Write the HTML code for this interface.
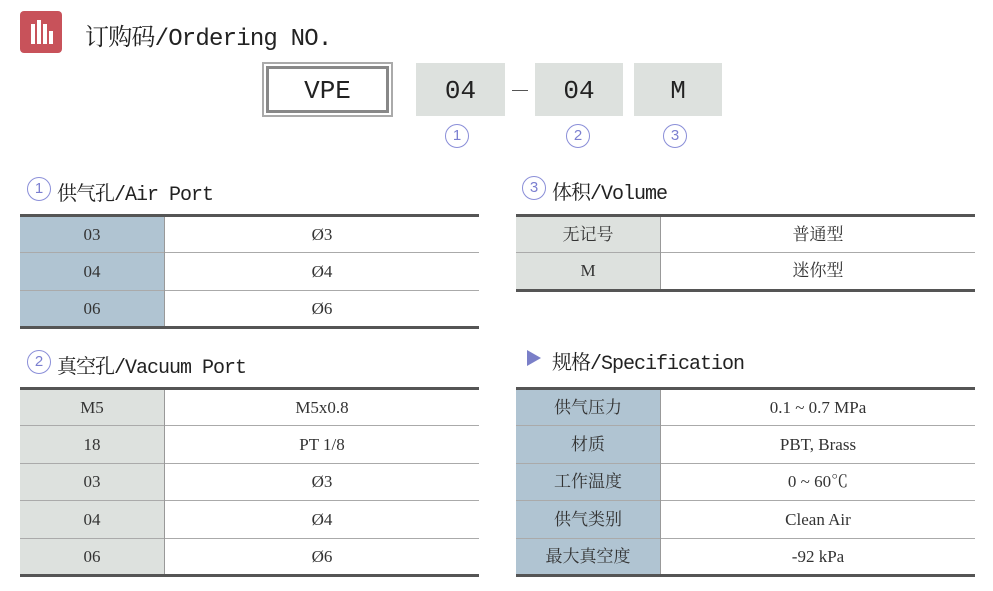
<!DOCTYPE html>
<html><head><meta charset="utf-8"><style>
body{margin:0;width:993px;height:591px;background:#fff;position:relative;overflow:hidden;font-family:"Liberation Serif","Noto Serif CJK SC",serif;color:#333}
.a{position:absolute}
.icon{left:20px;top:11px;width:42px;height:42px;background:#c8525a;border-radius:4px}
.icon i{position:absolute;bottom:9px;width:4px;background:#fff}
.title{left:85px;top:17px;font-size:24px;color:#222;white-space:nowrap;font-family:"Liberation Mono","Noto Serif CJK SC",monospace;letter-spacing:-0.8px}
.box{background:#dde1de;font-size:26px;text-align:center;line-height:57px;height:53px;color:#222;font-family:"Liberation Mono",monospace}
.num{font-size:15px;color:#7b7fd0;width:22px;height:22px;border:1px solid #8a8ed8;border-radius:50%;text-align:center;line-height:22px;font-family:"Liberation Sans",sans-serif}
.h{font-size:20px;color:#222;white-space:nowrap;font-family:"Liberation Mono","Noto Serif CJK SC",monospace;letter-spacing:-1px}
table{position:absolute;border-collapse:collapse;border-top:3px solid #555;border-bottom:3px solid #555;font-size:17px}
td{border-top:1px solid #aaa;text-align:center;padding:0;color:#333;line-height:20px}
td.l{border-right:1px solid #999}
.blue td.l{background:#b0c4d2}
.gray td.l{background:#dde1de}
</style></head><body>
<div class="a icon"><i style="left:11px;height:20px"></i><i style="left:17px;height:24px"></i><i style="left:23px;height:20px"></i><i style="left:29px;height:13px"></i></div>
<div class="a title">订购码/Ordering NO.</div>
<div class="a" style="left:262px;top:62px;width:127px;height:51px;border:2px solid #aaa;"><div style="position:absolute;left:2px;top:2px;right:2px;bottom:2px;border:3px solid #888;text-align:center;line-height:44px;font-size:26px;color:#222;font-family:'Liberation Mono',monospace">VPE</div></div>
<div class="a box" style="left:416px;top:63px;width:89px">04</div>
<div class="a" style="left:512px;top:90px;width:16px;height:1px;background:#555"></div>
<div class="a box" style="left:535px;top:63px;width:88px">04</div>
<div class="a box" style="left:634px;top:63px;width:88px">M</div>
<div class="a num" style="left:445px;top:124px">1</div>
<div class="a num" style="left:566px;top:124px">2</div>
<div class="a num" style="left:663px;top:124px">3</div>

<div class="a num" style="left:27px;top:177px">1</div>
<div class="a h" style="left:57px;top:177px">供气孔/Air Port</div>
<table class="blue" style="left:20px;top:214px;width:459px">
<tr style="height:37px"><td class="l" style="width:144px;border-top:0">03</td><td style="border-top:0">Ø3</td></tr>
<tr style="height:38px"><td class="l">04</td><td>Ø4</td></tr>
<tr style="height:37px"><td class="l">06</td><td>Ø6</td></tr>
</table>

<div class="a num" style="left:27px;top:350px">2</div>
<div class="a h" style="left:57px;top:350px">真空孔/Vacuum Port</div>
<table class="gray" style="left:20px;top:387px;width:459px">
<tr style="height:37px"><td class="l" style="width:144px;border-top:0">M5</td><td style="border-top:0">M5x0.8</td></tr>
<tr style="height:38px"><td class="l">18</td><td>PT 1/8</td></tr>
<tr style="height:37px"><td class="l">03</td><td>Ø3</td></tr>
<tr style="height:38px"><td class="l">04</td><td>Ø4</td></tr>
<tr style="height:37px"><td class="l">06</td><td>Ø6</td></tr>
</table>

<div class="a num" style="left:522px;top:176px">3</div>
<div class="a h" style="left:552px;top:176px">体积/Volume</div>
<table class="gray" style="left:516px;top:214px;width:459px">
<tr style="height:37px"><td class="l" style="width:144px;border-top:0">无记号</td><td style="border-top:0">普通型</td></tr>
<tr style="height:38px"><td class="l">M</td><td>迷你型</td></tr>
</table>

<div class="a" style="left:527px;top:350px;width:0;height:0;border-left:14px solid #7a7fc8;border-top:8px solid transparent;border-bottom:8px solid transparent"></div>
<div class="a h" style="left:552px;top:346px">规格/Specification</div>
<table class="blue" style="left:516px;top:387px;width:459px">
<tr style="height:37px"><td class="l" style="width:144px;border-top:0">供气压力</td><td style="border-top:0">0.1 ~ 0.7 MPa</td></tr>
<tr style="height:38px"><td class="l">材质</td><td>PBT, Brass</td></tr>
<tr style="height:37px"><td class="l">工作温度</td><td>0 ~ 60℃</td></tr>
<tr style="height:38px"><td class="l">供气类别</td><td>Clean Air</td></tr>
<tr style="height:37px"><td class="l">最大真空度</td><td>-92 kPa</td></tr>
</table>
</body></html>
